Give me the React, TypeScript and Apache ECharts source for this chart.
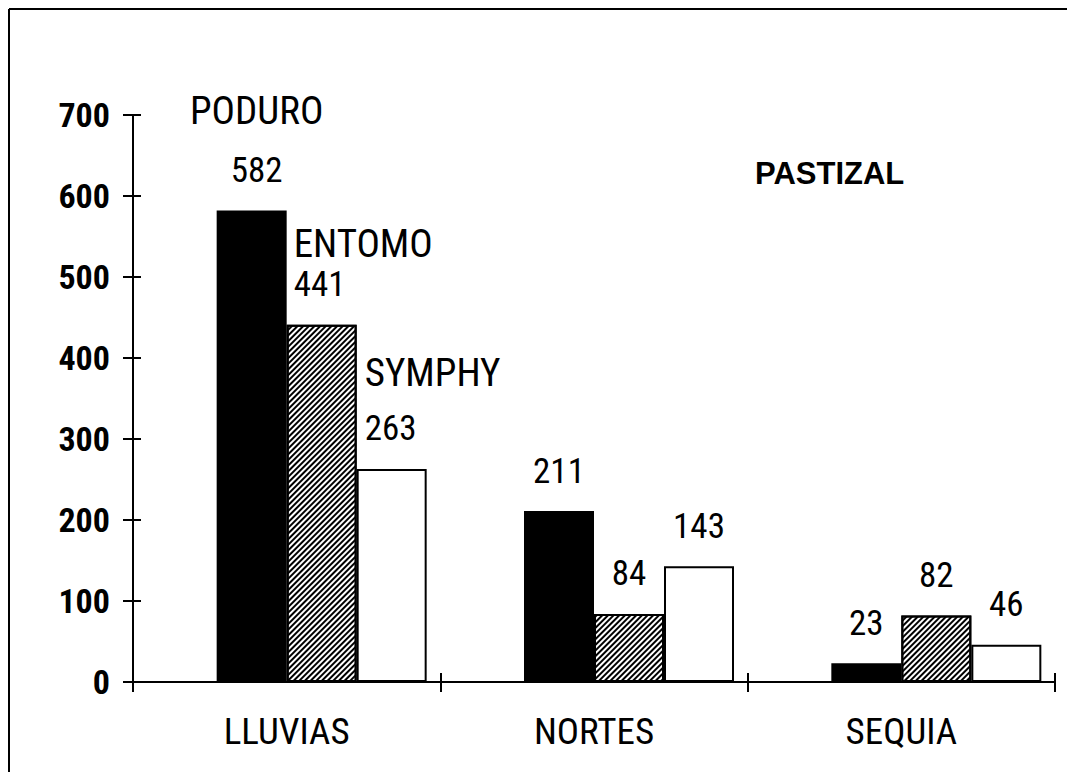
import React, { useEffect, useRef } from "react";
import * as echarts from "echarts";

const categories = ["LLUVIAS", "NORTES", "SEQUIA"];
const seriesNames = ["PODURO", "ENTOMO", "SYMPHY"];
const poduro = [582, 211, 23];
const entomo = [441, 84, 82];
const symphy = [263, 143, 46];
const yTicks = { min: 0, max: 700, interval: 100 };
const chartTitle = "PASTIZAL";

const NARROW = '"Liberation Sans Narrow", "Noto Sans ExtraCondensed", "Noto Sans Condensed", "Roboto Condensed", "DejaVu Sans Condensed", sans-serif';
const SANS = '"Liberation Sans", Arial, sans-serif';

export default function App() {
  const ref = useRef<HTMLDivElement>(null);
  useEffect(() => {
    if (!ref.current) return;
    const chart = echarts.init(ref.current, null, { renderer: "svg" });

    const nameLabel = [
      { align: "center", offset: [5, 0], nameLH: 84 },
      { align: "left", offset: [-28, 0], nameLH: 46 },
      { align: "left", offset: [-27, 0], nameLH: 76 },
    ];

    const makeData = (vals: number[], si: number) =>
      vals.map((v, i) => {
        if (i !== 0) return v;
        const cfg = nameLabel[si];
        return {
          value: v,
          label: {
            align: cfg.align,
            offset: cfg.offset,
            formatter: `{n|${seriesNames[si]}}\n{v|${v}}`,
            rich: {
              n: { fontFamily: NARROW, fontSize: 39, lineHeight: cfg.nameLH, color: "#000", align: cfg.align },
              v: { fontFamily: NARROW, fontSize: 35, lineHeight: 36, color: "#000", align: cfg.align },
            },
          },
        };
      });

    const baseLabel = {
      show: true,
      position: "top",
      distance: 22,
      fontFamily: NARROW,
      fontSize: 35,
      lineHeight: 36,
      color: "#000",
      formatter: "{c}",
    };

    const styles = [
      { color: "#000", borderColor: "#000", borderWidth: 2 },
      {
        color: "#fff",
        borderColor: "#000",
        borderWidth: 2,
        decal: {
          symbol: "rect",
          symbolSize: 1,
          dashArrayX: [1, 0],
          dashArrayY: [2, 1.6],
          rotation: -Math.PI / 4,
          color: "#000",
        },
      },
      { color: "#fff", borderColor: "#000", borderWidth: 2 },
    ];

    const values = [poduro, entomo, symphy];

    const option: any = {
      animation: false,
      backgroundColor: "#fff",
      title: {
        text: chartTitle,
        left: 755,
        top: 158,
        padding: 0,
        textStyle: { fontFamily: SANS, fontWeight: "bold", fontSize: 31, color: "#000" },
      },
      grid: { left: 133, right: 12, top: 115, bottom: 90, containLabel: false },
      xAxis: [
        {
          type: "category",
          data: categories,
          position: "bottom",
          axisLine: { show: true, lineStyle: { color: "#000", width: 2 } },
          axisTick: { show: true, length: 10, lineStyle: { color: "#000", width: 2 } },
          axisLabel: { fontFamily: NARROW, fontSize: 37, color: "#000", margin: 31 },
          splitLine: { show: false },
        },
        {
          type: "category",
          data: categories,
          position: "bottom",
          axisLine: { show: false },
          axisTick: { show: true, inside: true, length: 9, lineStyle: { color: "#000", width: 2 } },
          axisLabel: { show: false },
          splitLine: { show: false },
        },
      ],
      yAxis: [
        {
          type: "value",
          min: yTicks.min,
          max: yTicks.max,
          interval: yTicks.interval,
          position: "left",
          axisLine: { show: true, lineStyle: { color: "#000", width: 2 } },
          axisTick: { show: true, length: 10, lineStyle: { color: "#000", width: 2 } },
          axisLabel: { fontFamily: NARROW, fontWeight: "bold", fontSize: 34, color: "#000", margin: 23 },
          splitLine: { show: false },
        },
        {
          type: "value",
          min: yTicks.min,
          max: yTicks.max,
          interval: yTicks.interval,
          position: "left",
          axisLine: { show: false },
          axisTick: { show: true, inside: true, length: 8, lineStyle: { color: "#000", width: 2 } },
          axisLabel: { show: false },
          splitLine: { show: false },
        },
      ],
      graphic: [
        { type: "line", shape: { x1: 9, y1: 9, x2: 1067, y2: 9 }, style: { stroke: "#000", lineWidth: 2 } },
        { type: "line", shape: { x1: 9, y1: 9, x2: 9, y2: 772 }, style: { stroke: "#000", lineWidth: 2 } },
      ],
      series: [
        {
          type: "bar",
          name: "spacer",
          data: ["-", "-", "-"],
          barWidth: 70,
          barGap: "0%",
          silent: true,
          itemStyle: { color: "transparent" },
        },
        ...values.map((vals, si) => ({
          type: "bar",
          name: seriesNames[si],
          data: makeData(vals, si),
          barWidth: 70,
          barGap: "0%",
          itemStyle: styles[si],
          label: baseLabel,
        })),
      ],
    };

    chart.setOption(option);
    return () => chart.dispose();
  }, []);

  return (
    <div
      ref={ref}
      style={{ position: "absolute", left: 0, top: 0, width: 1067, height: 772, background: "#fff" }}
    />
  );
}
